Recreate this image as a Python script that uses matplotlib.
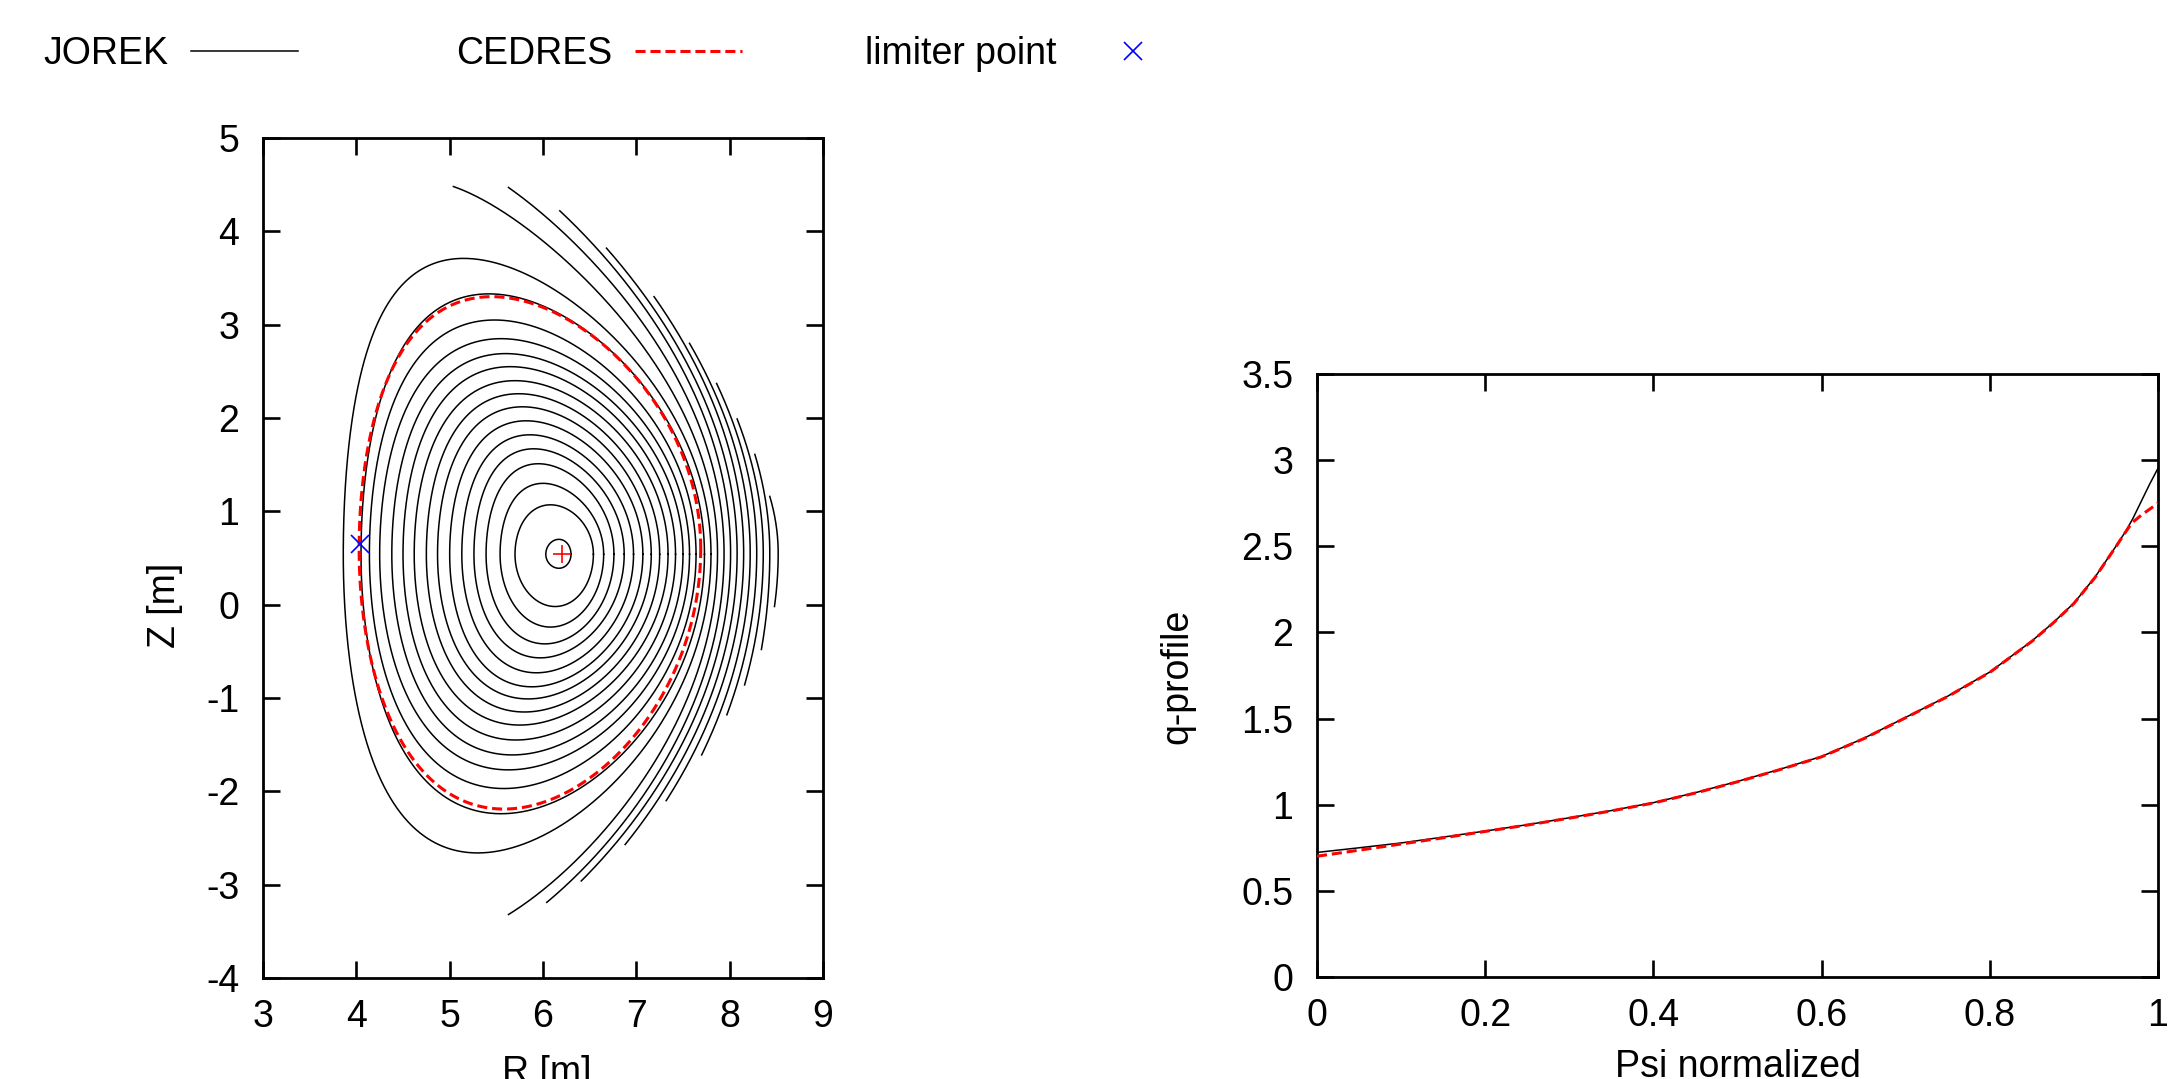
import numpy as np
import matplotlib
matplotlib.use("Agg")
import matplotlib.pyplot as plt
from matplotlib.lines import Line2D
from matplotlib.ticker import FuncFormatter

plt.rcParams['font.family'] = ['Liberation Sans', 'DejaVu Sans']

# ------------------------------------------------------------------ data
# JOREK closed flux surfaces, inner -> outer
surf_R_in  = [6.03, 5.70, 5.54, 5.39, 5.26, 5.13, 5.00, 4.87, 4.75, 4.62, 4.50, 4.38, 4.25, 4.14, 4.05, 3.86]
surf_R_out = [6.30, 6.54, 6.65, 6.76, 6.87, 6.97, 7.07, 7.16, 7.25, 7.34, 7.42, 7.50, 7.57, 7.64, 7.73, 7.80]
surf_Z_top = [0.70, 1.07, 1.30, 1.51, 1.67, 1.82, 1.97, 2.12, 2.26, 2.40, 2.55, 2.69, 2.85, 3.05, 3.33, 3.71]
surf_Z_bot = [0.39, -0.02, -0.24, -0.42, -0.57, -0.73, -0.88, -1.01, -1.15, -1.29, -1.45, -1.61, -1.77, -1.97, -2.24, -2.66]
surf_R_top = [6.17, 6.08, 6.00, 5.95, 5.90, 5.86, 5.82, 5.78, 5.74, 5.70, 5.65, 5.60, 5.55, 5.48, 5.42, 5.15]
surf_R_bot = [6.17, 6.13, 6.08, 6.02, 5.97, 5.93, 5.88, 5.84, 5.80, 5.75, 5.71, 5.67, 5.63, 5.58, 5.55, 5.30]
surf_Z_mid = 0.54

# JOREK open field lines (cut by the grid boundary)
open_R_out = [7.87, 7.94, 8.01, 8.08, 8.15, 8.22, 8.29, 8.36, 8.43, 8.52]
open_top_R = [5.04, 5.63, 6.18, 6.68, 7.19, 7.57, 7.86, 8.08, 8.27, 8.43]
open_top_Z = [4.48, 4.47, 4.22, 3.82, 3.30, 2.80, 2.37, 1.99, 1.61, 1.16]
open_bot_R = [5.63, 6.04, 6.41, 6.88, 7.32, 7.70, 7.97, 8.16, 8.34, 8.48]
open_bot_Z = [-3.32, -3.19, -2.96, -2.57, -2.10, -1.61, -1.18, -0.86, -0.48, -0.02]
open_R_center = 5.85
open_Z_mid = 0.55
open_delta_top = 0.6
open_delta_bot = 0.5

# CEDRES boundary
cedres_R_in, cedres_R_out = 4.03, 7.69
cedres_Z_top, cedres_Z_bot = 3.30, -2.19
cedres_R_top, cedres_R_bot = 5.45, 5.58
cedres_Z_mid = 0.60

axis_R, axis_Z = 6.20, 0.54
limiter_R, limiter_Z = 4.04, 0.65

# q-profiles
psi_norm = [0.0, 0.05, 0.1, 0.15, 0.2, 0.25, 0.3, 0.35, 0.4, 0.45, 0.5, 0.55, 0.6, 0.65,
            0.7, 0.75, 0.8, 0.85, 0.875, 0.9, 0.925, 0.95, 0.96, 0.966, 0.97, 0.98, 0.99, 1.0]
q_jorek  = [0.723, 0.750, 0.778, 0.812, 0.847, 0.884, 0.924, 0.966, 1.012, 1.070, 1.135, 1.205,
            1.280, 1.385, 1.507, 1.630, 1.770, 1.950, 2.055, 2.170, 2.320, 2.500, 2.575, 2.625,
            2.660, 2.760, 2.860, 2.953]
q_cedres = [0.701, 0.736, 0.772, 0.808, 0.845, 0.882, 0.922, 0.964, 1.010, 1.068, 1.133, 1.203,
            1.278, 1.383, 1.505, 1.628, 1.768, 1.948, 2.053, 2.168, 2.318, 2.498, 2.572, 2.615,
            2.640, 2.680, 2.715, 2.750]

left_xticks = [3, 4, 5, 6, 7, 8, 9]
left_yticks = [-4, -3, -2, -1, 0, 1, 2, 3, 4, 5]
right_xticks = [0, 0.2, 0.4, 0.6, 0.8, 1]
right_yticks = [0, 0.5, 1, 1.5, 2, 2.5, 3, 3.5]

legend_labels = ['JOREK', 'CEDRES', 'limiter point']

# ------------------------------------------------------------------ geometry helpers
def half_curve(Rc, A, Zm, H, delta, th):
    return Rc + A * np.cos(th + delta * np.sin(th)), Zm + H * np.sin(th)


def closed_surface(R_in, R_out, Z_top, Z_bot, R_top, R_bot, Zm, n=400):
    Rc = 0.5 * (R_in + R_out)
    A = 0.5 * (R_out - R_in)
    du = np.arcsin(np.clip((Rc - R_top) / A, -0.95, 0.95))
    dl = np.arcsin(np.clip((Rc - R_bot) / A, -0.95, 0.95))
    t1 = np.linspace(0, np.pi, n)
    t2 = np.linspace(np.pi, 2 * np.pi, n)
    Ru, Zu = half_curve(Rc, A, Zm, Z_top - Zm, du, t1)
    Rl, Zl = half_curve(Rc, A, Zm, Zm - Z_bot, dl, t2)
    return np.r_[Ru, Rl[1:]], np.r_[Zu, Zl[1:]]


def solve_theta(phi, delta):
    tt = np.linspace(0, np.pi, 4001)
    return np.interp(phi, tt + delta * np.sin(tt), tt)


def open_line(R_out, tR, tZ, bR, bZ, Rc, Zm, du, dl, n=300):
    A = R_out - Rc
    th_t = solve_theta(np.arccos(np.clip((tR - Rc) / A, -1, 1)), du)
    th_b = solve_theta(np.arccos(np.clip((bR - Rc) / A, -1, 1)), dl)
    Hu = (tZ - Zm) / np.sin(th_t)
    Hl = (Zm - bZ) / np.sin(th_b)
    tu = np.linspace(th_t, 0, n)
    td = np.linspace(0, th_b, n)
    Ru = Rc + A * np.cos(tu + du * np.sin(tu))
    Zu = Zm + Hu * np.sin(tu)
    Rd = Rc + A * np.cos(td + dl * np.sin(td))
    Zd = Zm - Hl * np.sin(td)
    return np.r_[Ru, Rd[1:]], np.r_[Zu, Zd[1:]]

# ------------------------------------------------------------------ figure
W, H = 2171, 1079
fig = plt.figure(figsize=(W / 100, H / 100), dpi=100)
FS = 27

def px_axes(x0, y0, x1, y1):
    return fig.add_axes([x0 / W, 1 - y1 / H, (x1 - x0) / W, (y1 - y0) / H])

ax1 = px_axes(263, 138, 823, 978)
ax2 = px_axes(1317, 374, 2158, 977)

jorek_style = dict(color='black', lw=1.1)
cedres_style = dict(color='red', lw=2.2, ls=(0, (3.3, 1.6)))
lim_style = dict(color='blue', marker='x', ms=13, mew=1.2, ls='none')

for i in range(len(surf_R_in)):
    R, Z = closed_surface(surf_R_in[i], surf_R_out[i], surf_Z_top[i], surf_Z_bot[i],
                          surf_R_top[i], surf_R_bot[i], surf_Z_mid)
    ax1.plot(R, Z, **jorek_style)

for i in range(len(open_R_out)):
    R, Z = open_line(open_R_out[i], open_top_R[i], open_top_Z[i], open_bot_R[i], open_bot_Z[i],
                     open_R_center, open_Z_mid, open_delta_top, open_delta_bot)
    ax1.plot(R, Z, **jorek_style)

Rb, Zb = closed_surface(cedres_R_in, cedres_R_out, cedres_Z_top, cedres_Z_bot,
                        cedres_R_top, cedres_R_bot, cedres_Z_mid)
ax1.plot(Rb, Zb, zorder=3, **cedres_style)
ax1.plot([axis_R], [axis_Z], color='red', marker='+', ms=13, mew=1.2, ls='none', zorder=4)
ax1.plot([limiter_R], [limiter_Z], zorder=4, **lim_style)

ax1.set_xlim(3, 9)
ax1.set_ylim(-4, 5)
ax1.set_xticks(left_xticks)
ax1.set_yticks(left_yticks)

ax2.plot(psi_norm, q_jorek, **jorek_style)
ax2.plot(psi_norm, q_cedres, zorder=3, **cedres_style)
ax2.set_xlim(0, 1)
ax2.set_ylim(0, 3.5)
ax2.set_xticks(right_xticks)
ax2.set_yticks(right_yticks)

fmt = FuncFormatter(lambda v, p: '%g' % v)
for ax in (ax1, ax2):
    ax.xaxis.set_major_formatter(fmt)
    ax.yaxis.set_major_formatter(fmt)
    ax.tick_params(direction='in', length=12, width=1.9, top=True, right=True,
                   labelsize=FS, pad=17)
    ax.tick_params(axis='x', pad=15)
    for s in ax.spines.values():
        s.set_linewidth(2.0)

# axis labels (placed as in the reference, bottom ones cut by the edge as there)
fig.text(165 / W, 1 - 605 / H, 'Z [m]', rotation=90, ha='center', va='center', fontsize=FS)
fig.text(547 / W, 1 - 1083 / H, 'R [m]', ha='center', va='baseline', fontsize=FS)
fig.text(1177 / W, 1 - 676 / H, 'q-profile', rotation=90, ha='center', va='center', fontsize=FS)
fig.text(1738 / W, 1 - 1077 / H, 'Psi normalized', ha='center', va='baseline', fontsize=FS)

# key (text left of sample, gnuplot style)
handles = [Line2D([], [], **jorek_style), Line2D([], [], **cedres_style), Line2D([], [], **lim_style)]
key_right = [298, 742, 1186]
for h, lab, xr in zip(handles, legend_labels, key_right):
    fig.legend([h], [lab], loc='center right', bbox_to_anchor=(xr / W, 1 - 54 / H),
               markerfirst=False, frameon=False, fontsize=FS, handlelength=2.85,
               handletextpad=0.61, borderpad=0, borderaxespad=0)

fig.savefig('out.png', dpi=100)
